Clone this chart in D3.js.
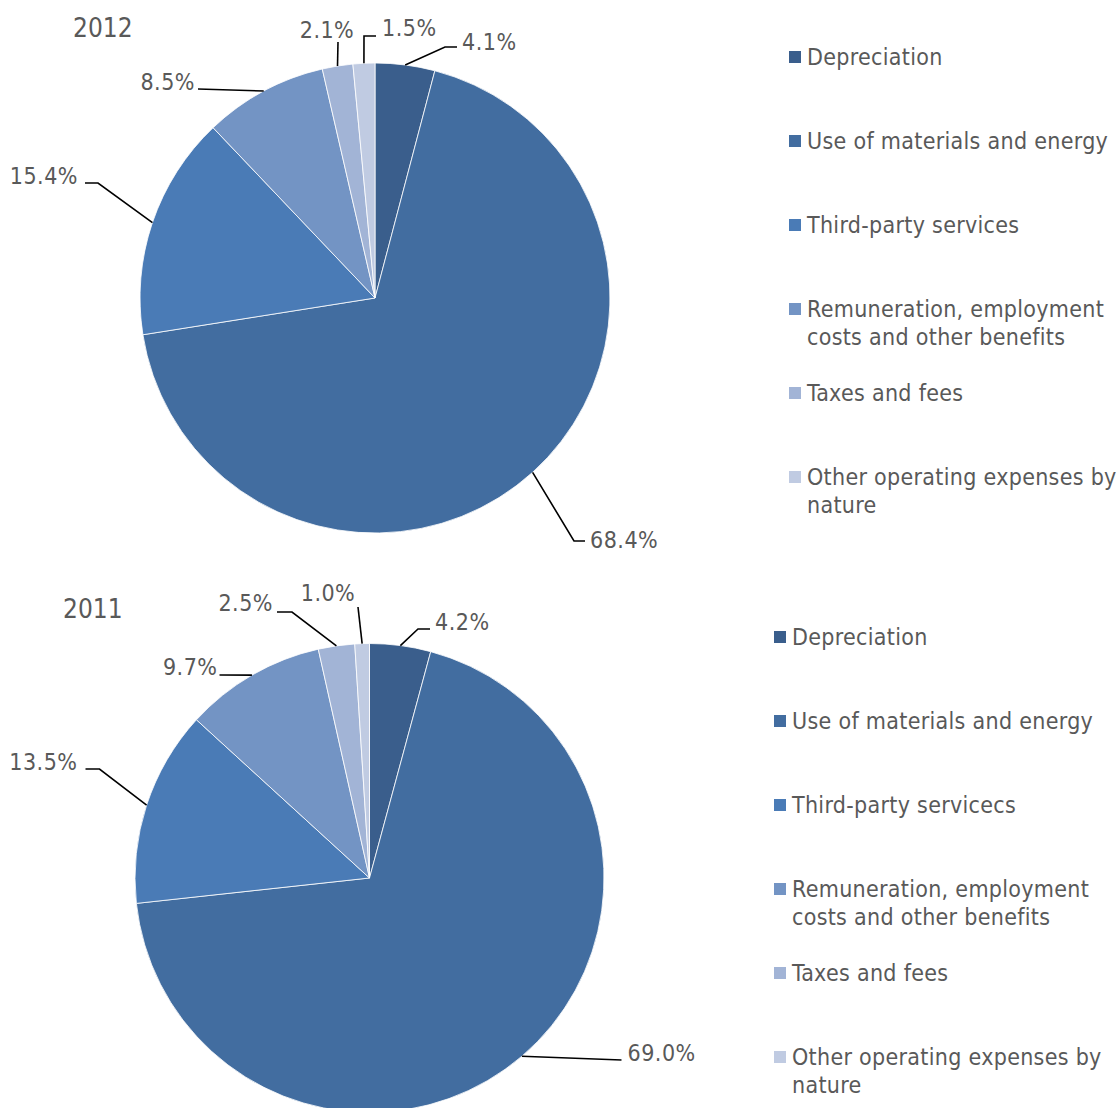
<!DOCTYPE html>
<html>
<head>
<meta charset="utf-8">
<script src="https://cdn.jsdelivr.net/npm/d3@7"></script>
<style>
  body { margin: 0; background: #fff; }
  svg { display: block; }
</style>
</head>
<body>
<svg id="chart" width="1117" height="1108"></svg>
<script>
// categories, in pie order (clockwise from 12 o'clock)
const categories_2012 = ["Depreciation", "Use of materials and energy", "Third-party services",
    "Remuneration, employment|costs and other benefits", "Taxes and fees", "Other operating expenses by|nature"];
const categories_2011 = ["Depreciation", "Use of materials and energy", "Third-party servicecs",
    "Remuneration, employment|costs and other benefits", "Taxes and fees", "Other operating expenses by|nature"];

const values_2012 = [4.1, 68.4, 15.4, 8.5, 2.1, 1.5];
const values_2011 = [4.2, 69.0, 13.5, 9.7, 2.5, 1.0];

const colors = ["#3a5e8c", "#426da0", "#4a7bb6", "#7394c4", "#a2b4d6", "#c0cbe2"];

const text_color = "#595959";

// label placement, relative to the pie centre: [textX, textY, anchor, elbowX, elbowY, endX, endY]
const labels_2012 = [
    [87, -256, "start", 70, -251, 82, -251],
    [215, 242, "start", 199, 243, 210, 243],
    [-297, -122, "end", -277, -115, -290, -115],
    [-180, -216, "end", -177, -209, -177, -209],
    [-48, -268, "middle", -37, -256, -37, -256],
    [7, -270, "start", -11, -262, 1, -262]
];
const labels_2011 = [
    [65.5, -256, "start", 48.5, -249, 60.5, -249],
    [258, 175, "start", 252, 182, 252, 182],
    [-292, -116, "end", -270, -109, -284, -109],
    [-152, -211, "end", -150, -203, -150, -203],
    [-96.5, -275, "end", -77.5, -266, -92.5, -266],
    [-41.5, -285, "middle", -11.5, -271, -11.5, -271]
];

const svg = d3.select("#chart");
const fontLabel = "'DejaVu Sans Condensed', 'DejaVu Sans', sans-serif";

function DrawPie(opts) {
    let g = svg.append("g").attr("transform", "translate(" + opts.cx + "," + opts.cy + ")");

    let pie = d3.pie().sort(null).value(function (d) { return d; });
    let arcs = pie(opts.values);
    let arc = d3.arc().innerRadius(0).outerRadius(opts.r);

    g.selectAll(".slice")
        .data(arcs)
        .enter()
        .append("path")
        .attr("class", "slice")
        .attr("d", arc)
        .style("fill", function (d, i) { return colors[i]; })
        .style("stroke", "#fff")
        .style("stroke-width", 0.8);

    // leader lines + percent labels
    arcs.forEach(function (d, i) {
        let a = (d.startAngle + d.endAngle) / 2;
        let px = Math.sin(a) * opts.r;
        let py = -Math.cos(a) * opts.r;
        let l = opts.labels[i];
        g.append("polyline")
            .attr("points", [[px, py], [l[3], l[4]], [l[5], l[6]]].map(function (p) { return p.join(","); }).join(" "))
            .style("fill", "none")
            .style("stroke", "#000")
            .style("stroke-width", 1.6);
        g.append("text")
            .attr("x", l[0])
            .attr("y", l[1])
            .attr("text-anchor", l[2])
            .attr("dominant-baseline", "central")
            .style("font-family", fontLabel)
            .style("font-size", "23px")
            .style("letter-spacing", "0.5px")
            .style("fill", text_color)
            .text(d3.format(".1f")(d.data) + "%");
    });

    // year title
    svg.append("text")
        .attr("x", opts.titleX)
        .attr("y", opts.titleY)
        .attr("dominant-baseline", "central")
        .style("font-family", fontLabel)
        .style("font-size", "26px")
        .style("fill", text_color)
        .text(opts.title);

    // legend
    let leg = svg.append("g").attr("transform", "translate(" + opts.legX + "," + opts.legY + ")");
    let item = leg.selectAll(".leg")
        .data(opts.categories)
        .enter()
        .append("g")
        .attr("class", "leg")
        .attr("transform", function (d, i) { return "translate(0," + (i * 84) + ")"; });

    item.append("rect")
        .attr("x", 0)
        .attr("y", -6)
        .attr("width", 12)
        .attr("height", 12)
        .style("fill", function (d, i) { return colors[i]; });

    item.append("text")
        .attr("x", 18)
        .attr("y", 0)
        .style("font-family", fontLabel)
        .style("font-size", "23px")
        .style("letter-spacing", "0.3px")
        .style("fill", text_color)
        .each(function (d) {
            let t = d3.select(this);
            d.split("|").forEach(function (line, k) {
                t.append("tspan")
                    .attr("x", 18)
                    .attr("y", k * 28)
                    .attr("dominant-baseline", "central")
                    .text(line);
            });
        });
}

DrawPie({
    cx: 375, cy: 298, r: 235, values: values_2012, labels: labels_2012,
    categories: categories_2012, title: "2012", titleX: 73, titleY: 28,
    legX: 789, legY: 57
});

DrawPie({
    cx: 369.5, cy: 878, r: 234.5, values: values_2011, labels: labels_2011,
    categories: categories_2011, title: "2011", titleX: 63, titleY: 609,
    legX: 774, legY: 637
});
</script>
</body>
</html>
